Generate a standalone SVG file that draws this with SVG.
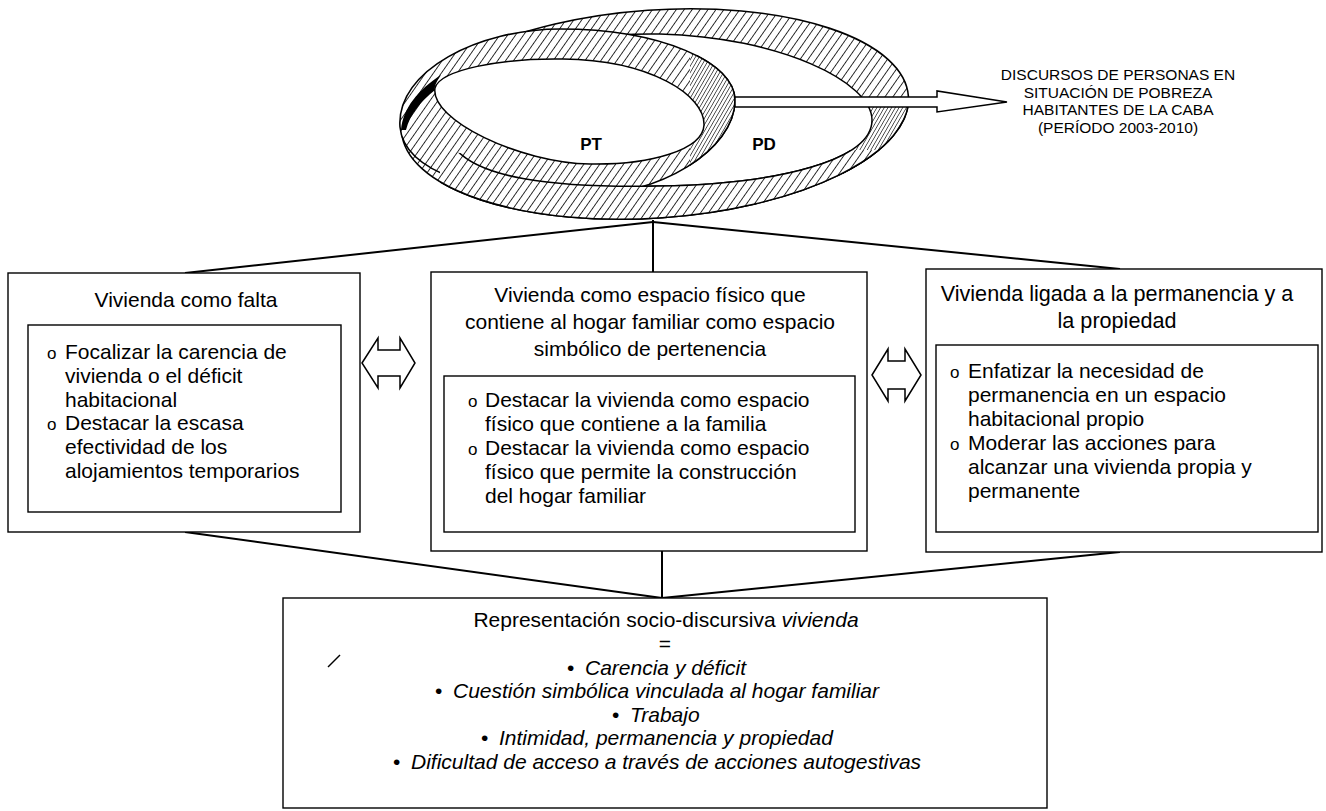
<svg xmlns="http://www.w3.org/2000/svg" width="1326" height="811" viewBox="0 0 1326 811">
<style>
.box{fill:#fff;stroke:#000;stroke-width:1.4}
.t{font-family:"Liberation Sans",Arial,sans-serif;font-size:21px;fill:#000}
.c{text-anchor:middle}
.i{font-style:italic}
.b{font-weight:bold}
.o{font-size:17px}
.conn line{stroke:#000;stroke-width:2}
.arr{fill:#fff;stroke:#000;stroke-width:1.5}
.hat{fill:url(#hatch);stroke:#000;stroke-width:1.6}
.dense{fill:url(#dense);stroke:#000;stroke-width:1.6}
.hole{fill:#fff;stroke:#000;stroke-width:1.5}
</style>
<defs>
<pattern id="hatch" patternUnits="userSpaceOnUse" width="6.5" height="6.5" patternTransform="rotate(35)">
<rect width="6.5" height="6.5" fill="#fff"/>
<line x1="0" y1="0" x2="0" y2="6.5" stroke="#000" stroke-width="1.6"/>
</pattern>
<pattern id="dense" patternUnits="userSpaceOnUse" width="3.2" height="3.2" patternTransform="rotate(30)">
<rect width="3.2" height="3.2" fill="#fff"/>
<line x1="0" y1="0" x2="0" y2="3.2" stroke="#000" stroke-width="1.2"/>
</pattern>
<path id="pdOuter" d="M401.6,131.7 A254,104 -4 1 0 908.4,96.3 A254,104 -4 1 0 401.6,131.7 Z"/>
<path id="pdInner" d="M450,140 C450,62 560,32 660,34 C780,37 872,82 872,120 C872,160 780,184 660,186 C560,188 468,180 450,140 Z"/>
<path id="ptOuter" d="M400,127 C396,70 480,29 560,29 C660,29 736,62 735,101 C734,150 660,196 580,196 C480,196 404,172 400,127 Z"/>
<clipPath id="pdCres"><rect x="842" y="104" width="80" height="70"/></clipPath>
<clipPath id="ptCres"><rect x="690" y="55" width="50" height="120"/></clipPath>
<clipPath id="front"><polygon points="440,150 520,162 600,170 700,170 722,150 925,150 925,232 440,232"/></clipPath>
</defs>

<g id="rings">
<use href="#pdOuter" class="hat"/>
<use href="#pdOuter" class="dense" clip-path="url(#pdCres)"/>
<use href="#pdInner" class="hole"/>
<use href="#ptOuter" class="hat"/>
<use href="#ptOuter" class="dense" clip-path="url(#ptCres)"/>
<path class="hole" d="M435,88 C440,70 500,58 563,59 C650,60 705,95 704,125 C703,150 650,165 590,164 C520,163 430,120 435,88 Z"/>
<path class="hat" fill-rule="evenodd" clip-path="url(#front)" d="M401.6,131.7 A254,104 -4 1 0 908.4,96.3 A254,104 -4 1 0 401.6,131.7 Z M450,140 C450,62 560,32 660,34 C780,37 872,82 872,120 C872,160 780,184 660,186 C560,188 468,180 450,140 Z"/>
<path d="M401,130 C403,108 418,90 441,75 C437,81 434,86 435,90 C421,101 410,114 406,130 Z" fill="#000"/>
<text class="t b c" style="font-size:17px" x="591" y="150">PT</text>
<text class="t b c" style="font-size:17px" x="764" y="150">PD</text>
</g>

<g id="out-arrow">
<polygon class="arr" points="735,97 937,97 937,91 1007,102 937,112 937,107 735,107"/>
</g>

<g id="discursos">
<text class="t c" style="font-size:15.5px" x="1118" y="80">DISCURSOS DE PERSONAS EN</text>
<text class="t c" style="font-size:15.5px" x="1118" y="97.5">SITUACIÓN DE POBREZA</text>
<text class="t c" style="font-size:15.5px" x="1118" y="115">HABITANTES DE LA CABA</text>
<text class="t c" style="font-size:15.5px" x="1118" y="132.5">(PERÍODO 2003-2010)</text>
</g>

<g id="connectors" class="conn">
<line x1="653" y1="220" x2="653" y2="272"/>
<line x1="653" y1="222" x2="185" y2="273"/>
<line x1="653" y1="222" x2="1120" y2="269"/>
<line x1="185" y1="532" x2="662" y2="598"/>
<line x1="662" y1="551" x2="662" y2="598"/>
<line x1="1120" y1="552" x2="662" y2="598"/>
</g>

<g id="box-falta">
<rect class="box" x="8" y="273" width="352" height="259"/>
<rect class="box" x="28" y="325" width="313" height="187"/>
<text class="t c" x="186" y="307">Vivienda como falta</text>
<text class="t o" x="47" y="359">o</text>
<text class="t" x="65" y="359">Focalizar la carencia de</text>
<text class="t" x="65" y="383">vivienda o el déficit</text>
<text class="t" x="65" y="407">habitacional</text>
<text class="t o" x="47" y="430">o</text>
<text class="t" x="65" y="430">Destacar la escasa</text>
<text class="t" x="65" y="454">efectividad de los</text>
<text class="t" x="65" y="478">alojamientos temporarios</text>
</g>

<g id="arrow-left">
<polygon class="arr" points="362,363 378,338 378,350 400,350 400,338 415,363 400,388 400,376 378,376 378,388"/>
</g>

<g id="box-espacio">
<rect class="box" x="431" y="272" width="436" height="279"/>
<rect class="box" x="444" y="376" width="411" height="156"/>
<text class="t c" x="650" y="302">Vivienda como espacio físico que</text>
<text class="t c" x="650" y="329">contiene al hogar familiar como espacio</text>
<text class="t c" x="650" y="356">simbólico de pertenencia</text>
<text class="t o" x="468" y="407">o</text>
<text class="t" x="485" y="407">Destacar la vivienda como espacio</text>
<text class="t" x="485" y="431">físico que contiene a la familia</text>
<text class="t o" x="468" y="455">o</text>
<text class="t" x="485" y="455">Destacar la vivienda como espacio</text>
<text class="t" x="485" y="479">físico que permite la construcción</text>
<text class="t" x="485" y="503">del hogar familiar</text>
</g>

<g id="arrow-right">
<polygon class="arr" points="872,375 888,349 888,361 905,361 905,349 921,375 905,401 905,389 888,389 888,401"/>
</g>

<g id="box-permanencia">
<rect class="box" x="926" y="269" width="396" height="283"/>
<rect class="box" x="936" y="345" width="382" height="187"/>
<text class="t c" x="1117" y="301" style="font-size:21.6px">Vivienda ligada a la permanencia y a</text>
<text class="t c" x="1117" y="328" style="font-size:21.6px">la propiedad</text>
<text class="t o" x="950" y="378">o</text>
<text class="t" x="968" y="378">Enfatizar la necesidad de</text>
<text class="t" x="968" y="402">permanencia en un espacio</text>
<text class="t" x="968" y="426">habitacional propio</text>
<text class="t o" x="950" y="450">o</text>
<text class="t" x="968" y="450">Moderar las acciones para</text>
<text class="t" x="968" y="474">alcanzar una vivienda propia y</text>
<text class="t" x="968" y="498">permanente</text>
</g>

<g id="box-representacion">
<rect class="box" x="283" y="598" width="764" height="210"/>
<text class="t c" x="666" y="627">Representación socio-discursiva <tspan class="i">vivienda</tspan></text>
<text class="t c" x="665" y="651">=</text>
<text class="t" x="567" y="675">•</text>
<text class="t i" x="585" y="675">Carencia y déficit</text>
<text class="t" x="435" y="698">•</text>
<text class="t i" x="453" y="698">Cuestión simbólica vinculada al hogar familiar</text>
<text class="t" x="612" y="722">•</text>
<text class="t i" x="630" y="722">Trabajo</text>
<text class="t" x="481" y="745">•</text>
<text class="t i" x="499" y="745">Intimidad, permanencia y propiedad</text>
<text class="t" x="393" y="769">•</text>
<text class="t i" x="411" y="769">Dificultad de acceso a través de acciones autogestivas</text>
<line x1="328" y1="667" x2="340" y2="655" stroke="#000" stroke-width="1.5"/>
</g>
</svg>
